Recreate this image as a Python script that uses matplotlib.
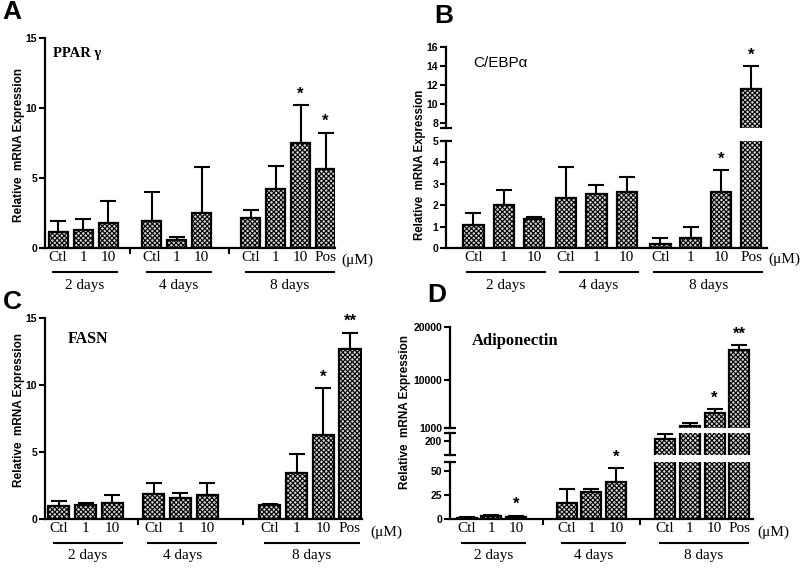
import matplotlib
matplotlib.use('Agg')
from matplotlib import pyplot as plt

plt.rcParams['hatch.linewidth'] = 0.8
plt.rcParams['font.family'] = ['Liberation Sans', 'DejaVu Sans']

W, H = 800, 569

# categories
dose_short = ['Ctl', '1', '10']
dose_long = ['Ctl', '1', '10', 'Pos']
days = ['2 days', '4 days', '8 days']
bar_labels = dose_short + dose_short + dose_long

# A: PPAR gamma
ppar_mean = [1.15, 1.3, 1.8, 1.95, 0.55, 2.5, 2.15, 4.25, 7.5, 5.65]
ppar_top = [1.9, 2.05, 3.35, 4.0, 0.78, 5.8, 2.7, 5.85, 10.2, 8.25]
ppar_sig = ['', '', '', '', '', '', '', '', '*', '*']

# B: C/EBP alpha
cebp_mean = [1.09, 1.99, 1.37, 2.33, 2.53, 2.64, 0.2, 0.47, 2.61, 11.55]
cebp_top = [1.63, 2.72, 1.44, 3.8, 2.95, 3.31, 0.47, 0.96, 3.65, 13.98]
cebp_sig = ['', '', '', '', '', '', '', '', '*', '*']

# C: FASN
fasn_mean = [0.99, 1.04, 1.19, 1.89, 1.54, 1.79, 1.07, 3.45, 6.26, 12.71]
fasn_top = [1.34, 1.17, 1.79, 2.66, 1.91, 2.66, 1.12, 4.84, 9.78, 13.91]
fasn_sig = ['', '', '', '', '', '', '', '', '*', '**']

# D: Adiponectin
adipo_mean = [0.7, 3.1, 2.4, 16.3, 27.8, 38.9, 214, 1430, 3760, 15630]
adipo_top = [1.7, 3.8, 3.5, 30.9, 31.9, 53.5, 267, 2000, 4510, 16570]
adipo_sig = ['', '', '*', '', '', '*', '', '', '*', '**']

fig = plt.figure(figsize=(W / 100, H / 100), dpi=100)


def px_axes(x0, x1, top, bottom):
    return fig.add_axes([x0 / W, 1 - bottom / H, (x1 - x0) / W, (bottom - top) / H])


def ftext(x, y, s, **kw):
    fig.text(x / W, 1 - y / H, s, **kw)


def positions(starts, step=1.0):
    sizes = [3, 3, 4]
    return [st + i * step for st, n in zip(starts, sizes) for i in range(n)]


def draw_panel(segs, ylims, yticks, xs, mean, top, sig, width, xlim, seps):
    n = len(segs)
    for k, (ax, yl, yt) in enumerate(zip(segs, ylims, yticks)):
        ax.bar(xs, mean, width, color='#d4d4d4', edgecolor='black', linewidth=1.6,
               hatch='xxxxxxx', zorder=2)
        # only error bars that reach into this segment
        idx = [i for i in range(len(xs)) if top[i] >= yl[0]]
        ax.errorbar([xs[i] for i in idx], [mean[i] for i in idx],
                    yerr=[[0] * len(idx), [top[i] - mean[i] for i in idx]],
                    fmt='none', ecolor='black', elinewidth=1.5, capsize=5.5, capthick=1.5, zorder=1)
        ax.set_xlim(*xlim)
        ax.set_ylim(*yl)
        ax.set_yticks(yt)
        ax.set_yticklabels([str(v) for v in yt], fontsize=7.5, fontweight='bold')
        ax.tick_params(axis='y', length=4, width=1.5, pad=1.5)
        for s in ['top', 'right']:
            ax.spines[s].set_visible(False)
        ax.spines['left'].set_linewidth(1.6)
        ax.patch.set_alpha(0)
        last = (k == n - 1)
        if not last:
            ax.spines['bottom'].set_visible(False)
            ax.set_xticks([])
            ax.plot(0, 0, marker='_', ms=8, mew=1.6, color='k', transform=ax.transAxes, clip_on=False)
        if k > 0:
            ax.plot(0, 1, marker='_', ms=8, mew=1.6, color='k', transform=ax.transAxes, clip_on=False)
        # significance marks
        for x, t, s in zip(xs, top, sig):
            if s and yl[0] <= t <= yl[1]:
                ax.annotate(s, (x, t), xytext=(0, 8), textcoords='offset points',
                            ha='center', va='center', fontsize=12, fontweight='bold',
                            annotation_clip=False, zorder=5)
    ax = segs[-1]
    ax.spines['bottom'].set_linewidth(1.6)
    ax.set_xticks(xs)
    ax.set_xticklabels(bar_labels, fontfamily='Liberation Serif', fontsize=11)
    ax.tick_params(axis='x', which='major', length=0, pad=2)
    ax.set_xticks(seps, minor=True)
    ax.tick_params(axis='x', which='minor', length=4, width=1.5)
    h = ax.get_position().height * H
    tr = ax.get_xaxis_transform()
    groups = [xs[0:3], xs[3:6], xs[6:10]]
    for g, lab in zip(groups, days):
        x0, x1 = g[0] - 0.2, g[-1] + 0.35
        ax.plot([x0, x1], [-24 / h, -24 / h], color='k', lw=1.5, transform=tr, clip_on=False)
        ax.text((x0 + x1) / 2, -37 / h, lab, transform=tr, ha='center', va='center',
                fontfamily='Liberation Serif', fontsize=11)


ylab = 'Relative  mRNA Expression'

# ---- A
axA = px_axes(45, 335, 38, 248)
xsA = positions([0, 3.75, 7.7])
draw_panel([axA], [(0, 15)], [[0, 5, 10, 15]], xsA, ppar_mean, ppar_top, ppar_sig,
           0.76, (-0.52, 11.08), [2.88, 6.85])
ftext(12, 12, 'A', fontsize=19, fontweight='bold', ha='center', va='center')
ftext(53, 53, 'PPAR \u03b3', fontfamily='Liberation Serif', fontweight='bold', fontsize=10.5, va='center')
ftext(19, 145, ylab, rotation=90, fontsize=8.5, fontweight='bold', ha='center', va='center')
ftext(357, 260, '(\u03bcM)', fontfamily='Liberation Serif', fontsize=11, ha='center', va='center')

# ---- B
axB1 = px_axes(446, 767, 47, 128)
axB2 = px_axes(446, 767, 141, 248)
xsB = positions([0, 3, 6.05], 0.98)
draw_panel([axB1, axB2], [(7.5, 16), (0, 5)], [[8, 10, 12, 14, 16], [0, 1, 2, 3, 4, 5]],
           xsB, cebp_mean, cebp_top, cebp_sig, 0.66, (-0.89, 9.5), [])
ftext(444, 16, 'B', fontsize=19, fontweight='bold', ha='center', va='center')
ftext(473, 63, 'C/EBP\u03b1', fontsize=11, va='center')
ftext(420, 165, ylab, rotation=90, fontsize=8.3, fontweight='bold', ha='center', va='center')
ftext(784, 259, '(\u03bcM)', fontfamily='Liberation Serif', fontsize=11, ha='center', va='center')

# ---- C
axC = px_axes(45, 362, 318, 519)
xsC = positions([0, 3.55, 7.9])
draw_panel([axC], [(0, 15)], [[0, 5, 10, 15]], xsC, fasn_mean, fasn_top, fasn_sig,
           0.79, (-0.52, 11.35), [2.95, 6.89])
ftext(12, 302, 'C', fontsize=19, fontweight='bold', ha='center', va='center')
ftext(68, 339, 'FASN', fontfamily='Liberation Serif', fontweight='bold', fontsize=11.5, va='center')
ftext(19, 410, ylab, rotation=90, fontsize=8.5, fontweight='bold', ha='center', va='center')
ftext(386, 532, '(\u03bcM)', fontfamily='Liberation Serif', fontsize=11, ha='center', va='center')

# ---- D
axD1 = px_axes(450, 753, 326.7, 428)
axD2 = px_axes(450, 753, 432.7, 455)
axD3 = px_axes(450, 753, 461.7, 519)
xsD = positions([0, 4.0, 7.95], 0.99)
draw_panel([axD1, axD2, axD3], [(1000, 20000), (60, 280), (0, 60)],
           [[1000, 10000, 20000], [200], [0, 25, 50]],
           xsD, adipo_mean, adipo_top, adipo_sig, 0.8, (-0.67, 11.47), [3.05, 6.96])
ftext(437, 295, 'D', fontsize=19, fontweight='bold', ha='center', va='center')
ftext(472, 341, 'Adiponectin', fontfamily='Liberation Serif', fontweight='bold', fontsize=12, va='center')
ftext(405, 412, ylab, rotation=90, fontsize=8.5, fontweight='bold', ha='center', va='center')
ftext(773, 532, '(\u03bcM)', fontfamily='Liberation Serif', fontsize=11, ha='center', va='center')

fig.savefig('out.png', dpi=100)
